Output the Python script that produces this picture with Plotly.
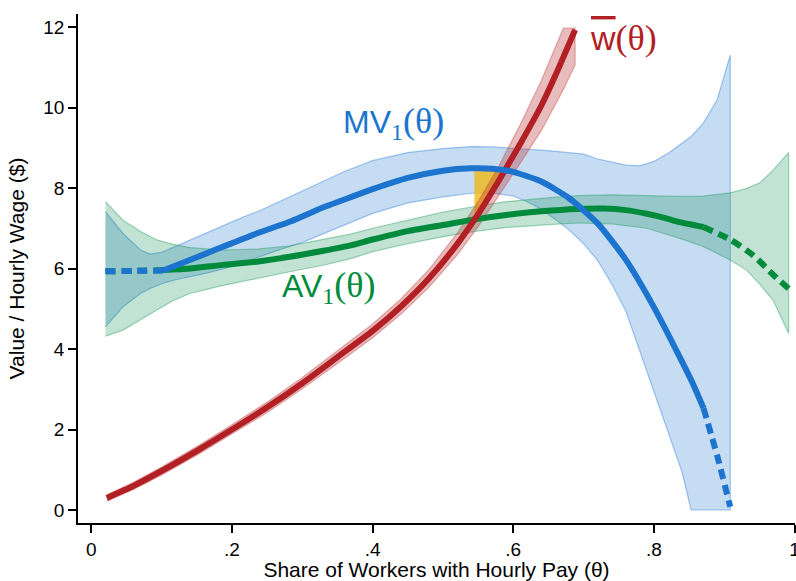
import numpy as np
import plotly.graph_objects as go

# ---------------- data ----------------
# w-bar(theta): hourly wage curve
RED_X = [0.022, 0.06, 0.1, 0.15, 0.2, 0.25, 0.3, 0.35, 0.4, 0.44, 0.48, 0.52, 0.55, 0.58, 0.61, 0.64, 0.66, 0.688]
RED_Y = [0.30, 0.60, 0.97, 1.47, 2.0, 2.55, 3.15, 3.8, 4.45, 5.05, 5.75, 6.6, 7.35, 8.2, 9.1, 10.05, 10.8, 11.93]
RED_BAND_X = [0.022, 0.06, 0.1, 0.15, 0.2, 0.25, 0.3, 0.35, 0.4, 0.44, 0.48, 0.52, 0.55, 0.58, 0.61, 0.64, 0.66, 0.6713, 0.688]
RED_UP = [0.38, 0.69, 1.07, 1.58, 2.12, 2.68, 3.29, 3.96, 4.62, 5.24, 5.97, 6.87, 7.66, 8.56, 9.58, 10.67, 11.52, 11.97, 11.97]
RED_LO = [0.22, 0.51, 0.87, 1.36, 1.88, 2.42, 3.01, 3.64, 4.28, 4.86, 5.53, 6.33, 7.04, 7.84, 8.62, 9.43, 10.08, 10.45, 11.06]

# MV1(theta)
BLUE_X = [0.02, 0.06, 0.102, 0.14, 0.187, 0.235, 0.282, 0.33, 0.37, 0.4, 0.45, 0.5, 0.54, 0.57, 0.6, 0.64, 0.68,
          0.72, 0.76, 0.8, 0.835, 0.856, 0.8706, 0.89, 0.9086]
BLUE_Y = [5.93, 5.94, 5.95, 6.21, 6.54, 6.87, 7.16, 7.52, 7.78, 7.97, 8.25, 8.43, 8.49, 8.48, 8.40, 8.16, 7.74,
          7.12, 6.22, 5.04, 3.86, 3.12, 2.53, 1.35, 0.08]
BLUE_BAND_X = [0.02, 0.045, 0.07, 0.083, 0.1, 0.12, 0.14, 0.165, 0.19, 0.215, 0.24, 0.27, 0.3, 0.33, 0.36, 0.4,
               0.45, 0.5, 0.54, 0.57, 0.6, 0.62, 0.64, 0.66, 0.68, 0.7, 0.72, 0.74, 0.76, 0.78, 0.8, 0.82, 0.84,
               0.853, 0.87, 0.89, 0.9086]
BLUE_UP = [7.41, 6.87, 6.46, 6.36, 6.40, 6.55, 6.71, 6.90, 7.08, 7.27, 7.44, 7.68, 7.92, 8.15, 8.41, 8.68,
           8.88, 8.98, 9.03, 9.02, 8.99, 8.96, 8.94, 8.91, 8.88, 8.84, 8.72, 8.64, 8.57, 8.55, 8.66, 8.86, 9.12,
           9.28, 9.6, 10.19, 11.3]
BLUE_LO = [4.55, 5.05, 5.38, 5.50, 5.62, 5.72, 5.80, 5.89, 6.00, 6.15, 6.30, 6.48, 6.65, 6.88, 7.08, 7.37,
           7.63, 7.78, 7.87, 7.88, 7.80, 7.66, 7.47, 7.22, 6.95, 6.62, 6.20, 5.62, 4.95, 4.0, 2.95, 1.95, 0.95,
           0.0, 0.0, 0.0, 0.0]

# AV1(theta)
GREEN_X = [0.02, 0.06, 0.102, 0.14, 0.187, 0.235, 0.282, 0.33, 0.37, 0.4, 0.45, 0.5, 0.545, 0.59, 0.64, 0.69,
           0.73, 0.76, 0.79, 0.815, 0.837, 0.8706, 0.9086, 0.9418, 0.97, 0.9916]
GREEN_Y = [5.93, 5.94, 5.96, 6.00, 6.09, 6.17, 6.29, 6.44, 6.58, 6.72, 6.93, 7.08, 7.22, 7.33, 7.42, 7.48,
           7.49, 7.45, 7.36, 7.26, 7.15, 7.03, 6.72, 6.32, 5.84, 5.5]
GREEN_BAND_X = [0.02, 0.045, 0.07, 0.093, 0.116, 0.14, 0.187, 0.235, 0.282, 0.33, 0.37, 0.4, 0.45, 0.5, 0.545,
                0.59, 0.64, 0.69, 0.74, 0.79, 0.837, 0.87, 0.9086, 0.932, 0.951, 0.97, 0.9916]
GREEN_UP = [7.66, 7.20, 6.92, 6.71, 6.60, 6.52, 6.46, 6.48, 6.56, 6.72, 6.86, 7.00, 7.20, 7.40, 7.54, 7.66,
            7.74, 7.81, 7.83, 7.81, 7.79, 7.80, 7.88, 7.99, 8.13, 8.45, 8.88]
GREEN_LO = [4.32, 4.47, 4.72, 4.97, 5.20, 5.38, 5.58, 5.75, 5.92, 6.08, 6.25, 6.42, 6.62, 6.79, 6.92, 7.02,
            7.08, 7.13, 7.11, 7.00, 6.75, 6.55, 6.21, 5.96, 5.6, 5.2, 4.39]

SUPPORT = [0.102, 0.8706]   # solid between these, dashed outside

X_TICKS = [0, 0.2, 0.4, 0.6, 0.8, 1.0]
X_TICKTEXT = ["0", ".2", ".4", ".6", ".8", "1"]
Y_TICKS = [0, 2, 4, 6, 8, 10, 12]

# ---------------- styles ----------------
BLUE = "#1c74cf"
GREEN = "#008b3c"
RED = "#b21f24"
SANS = "Liberation Sans, Arial, sans-serif"
SERIF = "Liberation Serif, Times New Roman, serif"
LW = 6

fig = go.Figure()


def band(xs, up, lo, fill, edge):
    xs = list(xs)
    fig.add_trace(go.Scatter(x=xs + xs[::-1], y=list(up) + list(lo)[::-1], mode="lines",
                             fill="toself", fillcolor=fill, line=dict(color=edge, width=1.2),
                             hoverinfo="skip", showlegend=False))


def split(xs, ys):
    xs = np.asarray(xs, float)
    ys = np.asarray(ys, float)
    lo, hi = SUPPORT
    m_left = xs <= lo + 1e-9
    m_mid = (xs >= lo - 1e-9) & (xs <= hi + 1e-9)
    m_right = xs >= hi - 1e-9
    return (xs[m_left], ys[m_left]), (xs[m_mid], ys[m_mid]), (xs[m_right], ys[m_right])


def curve(xs, ys, color):
    left, mid, right = split(xs, ys)
    for seg, dash in ((left, "10px,6px"), (right, "10px,6px"), (mid, "solid")):
        if len(seg[0]) > 1:
            fig.add_trace(go.Scatter(x=seg[0], y=seg[1], mode="lines",
                                     line=dict(color=color, width=LW, dash=dash, shape="spline", smoothing=0.6),
                                     hoverinfo="skip", showlegend=False))


# bands
band(BLUE_BAND_X, BLUE_UP, BLUE_LO, "rgba(28,117,208,0.25)", "rgba(80,150,225,0.55)")
band(GREEN_BAND_X, GREEN_UP, GREEN_LO, "rgba(0,140,70,0.24)", "rgba(40,160,100,0.45)")

# yellow area between w-bar and MV1, from where w-bar crosses AV1 to where it crosses MV1
grid = np.linspace(0.45, 0.68, 4601)
r = np.interp(grid, RED_X, RED_Y)
b = np.interp(grid, BLUE_X, BLUE_Y)
g = np.interp(grid, GREEN_X, GREEN_Y)
x_left = grid[np.argmax(r - g > 0)]
x_right = grid[np.argmax(r - b > 0)]
seg = grid[(grid >= x_left) & (grid <= x_right)]
yx = list(seg) + list(seg[::-1])
yy = list(np.interp(seg, BLUE_X, BLUE_Y)) + list(np.interp(seg[::-1], RED_X, RED_Y))
fig.add_trace(go.Scatter(x=yx, y=yy, mode="lines", fill="toself", fillcolor="rgba(240,185,20,0.8)",
                         line=dict(width=0), hoverinfo="skip", showlegend=False))

band(RED_BAND_X, RED_UP, RED_LO, "rgba(178,34,34,0.30)", "rgba(200,80,80,0.45)")

# lines
curve(GREEN_X, GREEN_Y, GREEN)
fig.add_trace(go.Scatter(x=RED_X, y=RED_Y, mode="lines",
                         line=dict(color=RED, width=LW, shape="spline", smoothing=0.6),
                         hoverinfo="skip", showlegend=False))
curve(BLUE_X, BLUE_Y, BLUE)

# labels
SUB = f'<sub><span style="font-family:{SERIF};font-size:24px">1</span></sub>'
THETA = f'<span style="font-family:{SERIF};font-size:36px">(θ)</span>'
fig.add_annotation(x=0.355, y=9.62, xanchor="left", yanchor="middle", showarrow=False,
                   text="MV" + SUB + THETA,
                   font=dict(family=SANS, size=32, color=BLUE))
fig.add_annotation(x=0.268, y=5.54, xanchor="left", yanchor="middle", showarrow=False,
                   text="AV" + SUB + THETA,
                   font=dict(family=SANS, size=32, color=GREEN))
fig.add_annotation(x=0.7065, y=11.73, xanchor="left", yanchor="middle", showarrow=False,
                   text='<span style="text-decoration:overline;font-size:34px">w</span>' + THETA,
                   font=dict(family=SANS, size=32, color=RED))

axis_common = dict(showline=True, linecolor="black", linewidth=1.5, ticks="outside", ticklen=8,
                   tickwidth=1.5, tickcolor="black", showgrid=False, zeroline=False,
                   ticklabeloverflow="allow", automargin=False,
                   tickfont=dict(family=SANS, size=19, color="black"))

fig.update_layout(
    width=796, height=581,
    margin=dict(l=78, r=1, t=14, b=58),
    paper_bgcolor="white", plot_bgcolor="white",
    showlegend=False,
    xaxis=dict(range=[-0.019, 1.0007], tickvals=X_TICKS, ticktext=X_TICKTEXT,
               title=dict(text="Share of Workers with Hourly Pay (θ)", standoff=5,
                          font=dict(family=SANS, size=21, color="black")),
               **axis_common),
    yaxis=dict(range=[-0.323, 12.323], tickvals=Y_TICKS,
               title=dict(text="Value / Hourly Wage ($)", standoff=13,
                          font=dict(family=SANS, size=21, color="black")),
               **axis_common),
)

fig.write_html("out.html")
